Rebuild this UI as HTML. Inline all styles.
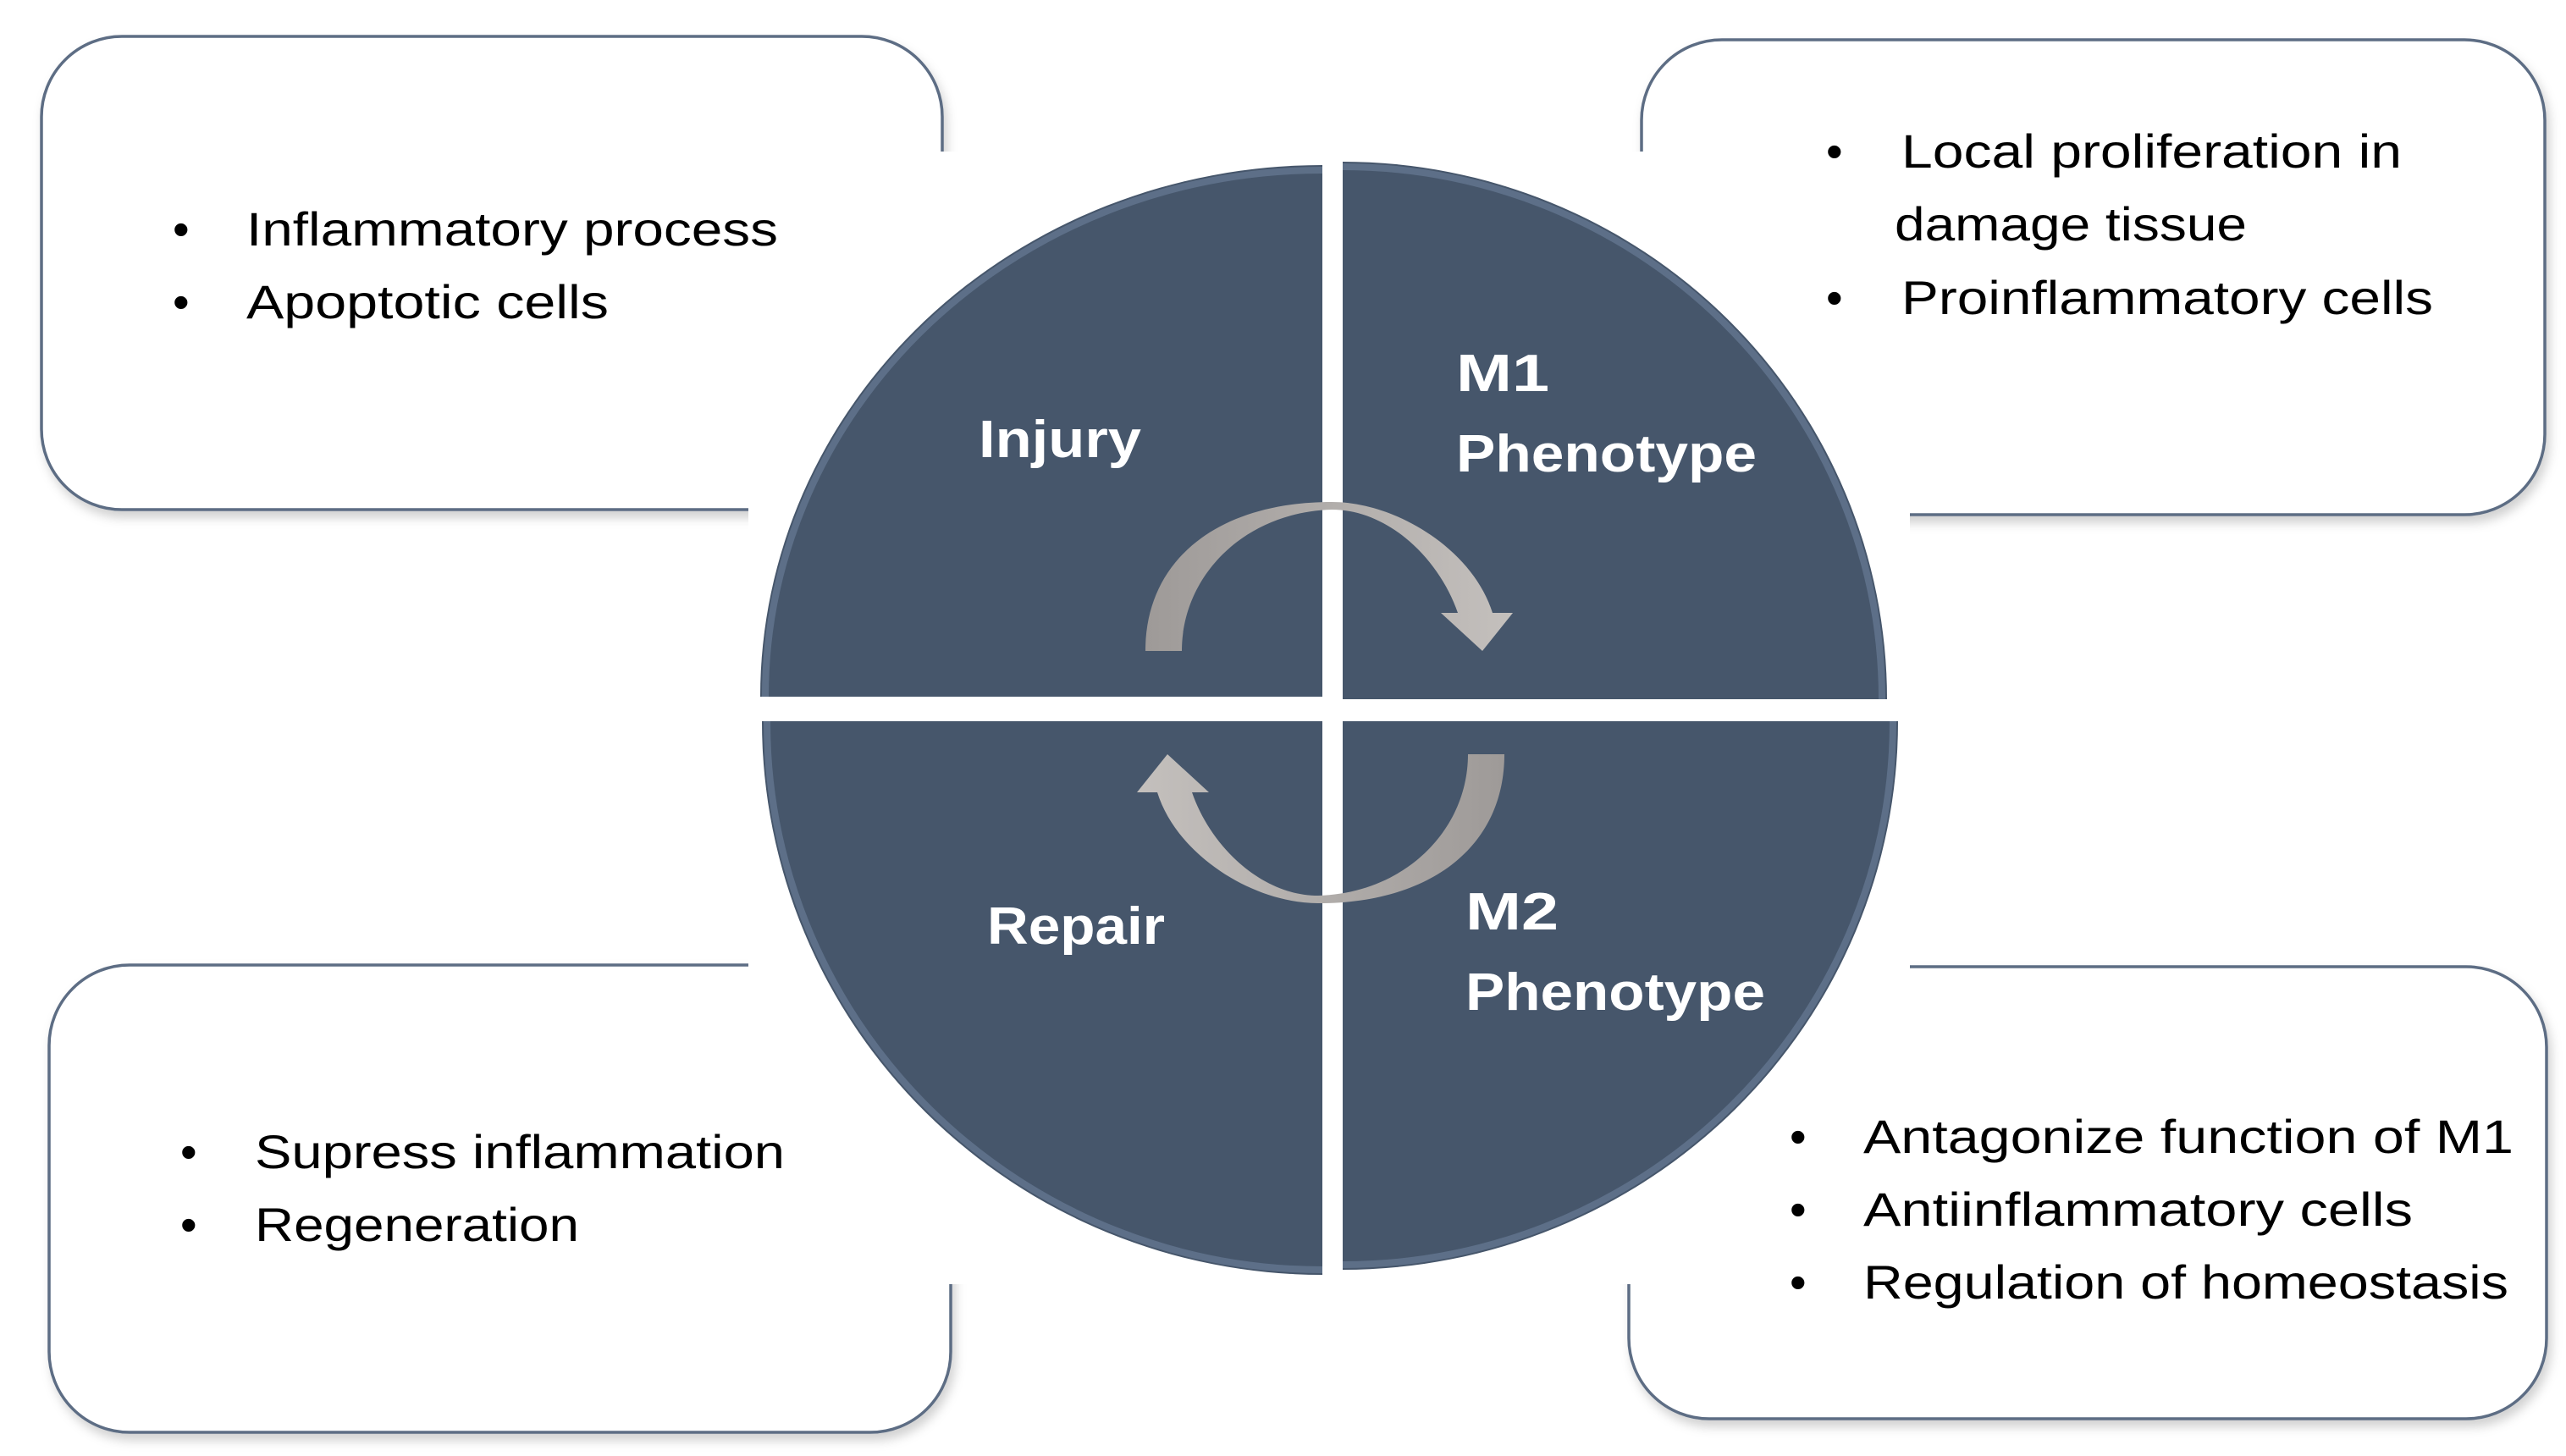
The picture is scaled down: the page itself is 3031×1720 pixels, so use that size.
<!DOCTYPE html>
<html><head><meta charset="utf-8"><style>
html,body{margin:0;padding:0;background:#fff;}
svg{display:block;}
.t{font-family:"Liberation Sans",sans-serif;font-size:56px;fill:#000;}
.b{font-family:"Liberation Sans",sans-serif;font-size:62px;font-weight:bold;fill:#fff;}
</style></head><body>
<svg width="3031" height="1720" viewBox="0 0 3031 1720" xmlns="http://www.w3.org/2000/svg">
<defs>
<filter id="sh" x="-5%" y="-5%" width="110%" height="115%"><feDropShadow dx="4" dy="8" stdDeviation="6" flood-color="#000" flood-opacity="0.18"/></filter>
<radialGradient id="qg" cx="0" cy="0" r="1" gradientUnits="objectBoundingBox">
<stop offset="0" stop-color="#46566b"/><stop offset="0.9" stop-color="#46566b"/><stop offset="0.97" stop-color="#5b6e88"/><stop offset="1" stop-color="#7588a2"/>
</radialGradient>
<linearGradient id="ag" x1="0" y1="0" x2="1" y2="0"><stop offset="0" stop-color="#9e9a98"/><stop offset="1" stop-color="#c4c0bd"/></linearGradient>
</defs>
<g fill="#fff" stroke="#5d6d84" stroke-width="3.5" filter="url(#sh)">
<rect x="49" y="43" width="1064" height="559" rx="95"/>
<rect x="1939" y="47" width="1067" height="561" rx="95"/>
<rect x="58" y="1140" width="1065" height="552" rx="95"/>
<rect x="1924" y="1142" width="1084" height="534" rx="95"/>
</g>
<rect x="884" y="179" width="1372" height="1338" fill="#fff"/>
<!-- quadrants -->
<path d="M1562,823 L898,823 A664,628 0 0,1 1562,195 Z" fill="#46566b"/>
<path d="M1586,826 L1586,191 A643,635 0 0,1 2229,826 Z" fill="#46566b"/>
<path d="M1562,852 L1562,1506 A662,654 0 0,1 900,852 Z" fill="#46566b"/>
<path d="M1586,852 L2242,852 A656,648 0 0,1 1586,1500 Z" fill="#46566b"/>
<g fill="none" stroke="#6d809b" stroke-width="8" opacity="0.6">
<path d="M904,823 A658,622 0 0,1 1562,201"/>
<path d="M1586,197 A637,629 0 0,1 2223,826"/>
<path d="M1562,1500 A656,648 0 0,1 906,852"/>
<path d="M2236,852 A650,642 0 0,1 1586,1494"/>
</g>
<!-- arrows -->
<g id="arr" fill="url(#ag)">
<path d="M1353,769 C1353,660 1440,593 1573,593 C1650,593 1740,650 1763,724 L1787,724 L1751,769 L1702,724 L1722,724 C1700,660 1640,602 1573,602 C1470,605 1396,680 1396,769 Z"/>
</g>
<use href="#arr" transform="rotate(180 1565 830)"/>
<rect x="1562" y="580" width="24" height="500" fill="#fff" opacity="0"/>
<!-- labels -->
<text class="b" x="1156" y="540" textLength="192" lengthAdjust="spacingAndGlyphs">Injury</text>
<text class="b" x="1720" y="462" textLength="110" lengthAdjust="spacingAndGlyphs">M1</text>
<text class="b" x="1720" y="557" textLength="355" lengthAdjust="spacingAndGlyphs">Phenotype</text>
<text class="b" x="1166" y="1115" textLength="210" lengthAdjust="spacingAndGlyphs">Repair</text>
<text class="b" x="1731" y="1098" textLength="110" lengthAdjust="spacingAndGlyphs">M2</text>
<text class="b" x="1731" y="1193" textLength="354" lengthAdjust="spacingAndGlyphs">Phenotype</text>
<!-- box text -->
<g class="t">
<text x="204" y="290">•</text>
<text x="291" y="290" textLength="628" lengthAdjust="spacingAndGlyphs">Inflammatory process</text>
<text x="204" y="376">•</text>
<text x="291" y="376" textLength="428" lengthAdjust="spacingAndGlyphs">Apoptotic cells</text>

<text x="2157" y="198">•</text>
<text x="2246" y="198" textLength="591" lengthAdjust="spacingAndGlyphs">Local proliferation in</text>
<text x="2238" y="284" textLength="416" lengthAdjust="spacingAndGlyphs">damage tissue</text>
<text x="2157" y="371">•</text>
<text x="2246" y="371" textLength="628" lengthAdjust="spacingAndGlyphs">Proinflammatory cells</text>

<text x="213" y="1380">•</text>
<text x="301" y="1380" textLength="626" lengthAdjust="spacingAndGlyphs">Supress inflammation</text>
<text x="213" y="1466">•</text>
<text x="301" y="1466" textLength="383" lengthAdjust="spacingAndGlyphs">Regeneration</text>

<text x="2114" y="1362">•</text>
<text x="2201" y="1362" textLength="768" lengthAdjust="spacingAndGlyphs">Antagonize function of M1</text>
<text x="2114" y="1448">•</text>
<text x="2201" y="1448" textLength="649" lengthAdjust="spacingAndGlyphs">Antiinflammatory cells</text>
<text x="2114" y="1534">•</text>
<text x="2201" y="1534" textLength="762" lengthAdjust="spacingAndGlyphs">Regulation of homeostasis</text>
</g>
</svg>
</body></html>
